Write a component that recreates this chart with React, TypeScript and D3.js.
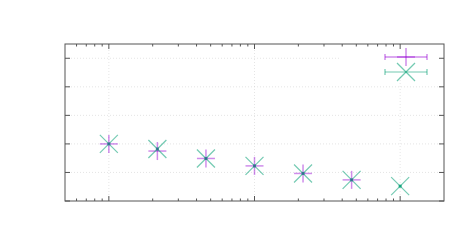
import React, { useRef, useEffect } from 'react';
import * as d3 from 'd3';

// sample sizes (log axis) and the two measured series
const xValues = [1, 2.154, 4.642, 10, 21.54, 46.42, 100];
const seriesA = [2.0, 1.75, 1.49, 1.23, 0.965, 0.74, NaN]; // magenta "+"
const seriesB = [2.0, 1.82, 1.49, 1.23, 0.965, 0.74, 0.52]; // green "x"
const yTicks = [0, 1, 2, 3, 4, 5];
const xMajor = [1, 10, 100];

const W = 472;
const H = 250;
const margin = { top: 44, right: 28, bottom: 49, left: 65 };

const MAGENTA = '#9400d3';
const GREEN = '#009e73';

function drawChart(svgEl: SVGSVGElement) {
  const svg = d3.select(svgEl);
  svg.selectAll('*').remove();

  const x = d3.scaleLog().domain([0.5, 200]).range([margin.left, W - margin.right]);
  const y = d3.scaleLinear().domain([0, 5.5]).range([H - margin.bottom, margin.top]);
  const [x0, x1] = x.range();
  const [y0, y1] = y.range();

  svg.append('rect').attr('width', W).attr('height', H).attr('fill', 'white');

  // grid
  const grid = svg.append('g')
    .attr('stroke', '#d4d4d4')
    .attr('stroke-width', 0.6)
    .attr('stroke-dasharray', '1,2');
  grid.selectAll('line.gx')
    .data(xMajor)
    .join('line')
    .attr('x1', d => x(d)).attr('x2', d => x(d))
    .attr('y1', y0).attr('y2', y1);
  grid.selectAll('line.gy')
    .data(yTicks.slice(1))
    .join('line')
    .attr('x1', x0).attr('x2', x1)
    .attr('y1', d => y(d)).attr('y2', d => y(d));

  // key area (opaque, no border)
  svg.append('rect')
    .attr('x', 340).attr('y', y1 + 1)
    .attr('width', x1 - 341).attr('height', 32)
    .attr('fill', 'white');

  // ticks
  const minor: number[] = [];
  [0.1, 1, 10, 100].forEach(dec => {
    for (let k = 2; k <= 9; k++) {
      const v = dec * k;
      if (v > 0.5 && v < 200) minor.push(v);
    }
  });
  const ticks = svg.append('g').attr('stroke', '#555').attr('stroke-width', 1);
  xMajor.forEach(v => {
    ticks.append('line').attr('x1', x(v)).attr('x2', x(v)).attr('y1', y0).attr('y2', y0 - 5);
    ticks.append('line').attr('x1', x(v)).attr('x2', x(v)).attr('y1', y1).attr('y2', y1 + 5);
  });
  minor.forEach(v => {
    ticks.append('line').attr('x1', x(v)).attr('x2', x(v)).attr('y1', y0).attr('y2', y0 - 2.5);
    ticks.append('line').attr('x1', x(v)).attr('x2', x(v)).attr('y1', y1).attr('y2', y1 + 2.5);
  });
  yTicks.forEach(v => {
    ticks.append('line').attr('x1', x0).attr('x2', x0 + 5).attr('y1', y(v)).attr('y2', y(v));
    ticks.append('line').attr('x1', x1).attr('x2', x1 - 5).attr('y1', y(v)).attr('y2', y(v));
  });

  // border
  svg.append('rect')
    .attr('x', x0).attr('y', y1)
    .attr('width', x1 - x0).attr('height', y0 - y1)
    .attr('fill', 'none')
    .attr('stroke', '#555')
    .attr('stroke-width', 1);

  const s = 9;
  const plus = (g: any, cx: number, cy: number) => {
    g.append('line').attr('x1', cx - s).attr('x2', cx + s).attr('y1', cy).attr('y2', cy);
    g.append('line').attr('x1', cx).attr('x2', cx).attr('y1', cy - s).attr('y2', cy + s);
  };
  const cross = (g: any, cx: number, cy: number) => {
    g.append('line').attr('x1', cx - s).attr('x2', cx + s).attr('y1', cy - s).attr('y2', cy + s);
    g.append('line').attr('x1', cx - s).attr('x2', cx + s).attr('y1', cy + s).attr('y2', cy - s);
  };

  // series A
  const gA = svg.append('g')
    .attr('stroke', MAGENTA).attr('stroke-opacity', 0.45).attr('stroke-width', 1.5);
  xValues.forEach((xv, i) => {
    if (!isNaN(seriesA[i])) plus(gA, x(xv), y(seriesA[i]));
  });
  // series B
  const gB = svg.append('g')
    .attr('stroke', GREEN).attr('stroke-opacity', 0.55).attr('stroke-width', 1.2);
  xValues.forEach((xv, i) => {
    if (!isNaN(seriesB[i])) cross(gB, x(xv), y(seriesB[i]));
  });
  // centre dots
  svg.append('g')
    .selectAll('rect')
    .data(xValues.map((xv, i) => [xv, seriesB[i]]))
    .join('rect')
    .attr('x', d => x(d[0]) - 1.5)
    .attr('y', d => y(d[1]) - 1.5)
    .attr('width', 3).attr('height', 3)
    .attr('fill', (d, i) => isNaN(seriesA[i]) ? GREEN : '#2a6f8a')
    .attr('opacity', 0.8);

  // key samples
  const kx1 = 385, kx2 = 427, kc = 406;
  const keyRows = [
    { yy: 57, color: MAGENTA, op: 0.45, w: 1.5, mark: plus },
    { yy: 72, color: GREEN, op: 0.55, w: 1.2, mark: cross },
  ];
  keyRows.forEach(r => {
    const g = svg.append('g').attr('stroke', r.color).attr('stroke-opacity', r.op).attr('stroke-width', r.w);
    g.append('line').attr('x1', kx1).attr('x2', kx2).attr('y1', r.yy).attr('y2', r.yy);
    g.append('line').attr('x1', kx1).attr('x2', kx1).attr('y1', r.yy - 3).attr('y2', r.yy + 3);
    g.append('line').attr('x1', kx2).attr('x2', kx2).attr('y1', r.yy - 3).attr('y2', r.yy + 3);
    r.mark(g, kc, r.yy);
  });
}

export default function App() {
  const ref = useRef<SVGSVGElement>(null);
  useEffect(() => {
    if (ref.current) drawChart(ref.current);
  }, []);
  return (
    <svg
      ref={ref}
      width={W}
      height={H}
      style={{ position: 'absolute', left: 0, top: 0 }}
    />
  );
}
